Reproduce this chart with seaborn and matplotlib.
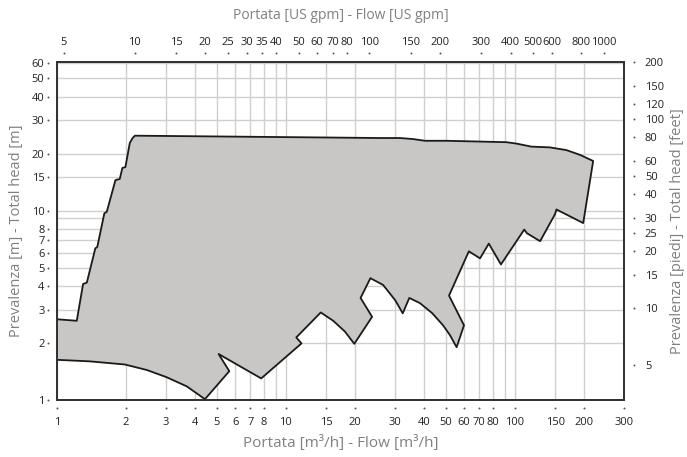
import numpy as np
import matplotlib
matplotlib.use("Agg")
import matplotlib.pyplot as plt
import matplotlib.transforms as mtransforms
from matplotlib.ticker import FixedLocator, FuncFormatter, NullFormatter
import seaborn as sns

# outline of the working range: flow [m3/h], head [m] (closed polygon)
flow = [1.00, 1.00, 1.22, 1.30, 1.35, 1.47, 1.50, 1.61, 1.65, 1.80, 1.88, 1.93, 1.99,
        2.08, 2.14, 2.19, 25.8, 31.5, 35.9, 40.5, 50.4, 92, 102, 118, 142, 168, 193, 220,
        199, 152, 150, 129, 113, 110, 87, 77, 70.5, 63, 51.6, 60, 55.7,
        52.1, 48.6, 43.5, 38.5, 34.6, 32.4, 30.0, 26.6, 23.4, 21.2, 23.8,
        19.9, 18.1, 16.1, 14.2, 11.1, 11.7, 7.8, 5.08, 5.66, 4.43,
        3.69, 3.01, 2.47, 1.98, 1.39, 1.00]
head = [1.63, 2.67, 2.62, 4.10, 4.17, 6.32, 6.44, 9.68, 9.87, 14.5, 14.7, 16.8, 17.0,
        22.8, 24.2, 24.9, 24.2, 24.2, 23.9, 23.4, 23.4, 23.0, 22.6, 21.8, 21.6, 20.9, 19.7, 18.3,
        8.6, 10.15, 9.6, 6.9, 7.6, 7.95, 5.2, 6.7, 5.6, 6.1, 3.56, 2.48, 1.90,
        2.20, 2.48, 2.88, 3.25, 3.46, 2.87, 3.37, 4.05, 4.40, 3.46, 2.75,
        1.98, 2.30, 2.62, 2.90, 2.14, 1.99, 1.30, 1.75, 1.42, 1.01,
        1.18, 1.32, 1.44, 1.54, 1.60, 1.63]

x_ticks = [1, 2, 3, 4, 5, 6, 7, 8, 10, 15, 20, 30, 40, 50, 60, 70, 80, 100, 150, 200, 300]
y_ticks = [1, 2, 3, 4, 5, 6, 7, 8, 10, 15, 20, 30, 40, 50, 60]
gpm_ticks = [5, 10, 15, 20, 25, 30, 35, 40, 50, 60, 70, 80, 100, 150, 200, 300, 400, 500, 600, 800, 1000]
feet_ticks = [5, 10, 15, 20, 25, 30, 40, 50, 60, 80, 100, 120, 150, 200]
gpm_grid = [40, 400]   # extra vertical grid lines (US gpm)
feet_grid = [30]       # extra horizontal grid line (feet)

M3H_TO_GPM = 4.403
M_TO_FT = 3.28084

sns.set_theme(style="white")
plt.rcParams["font.family"] = ["Open Sans", "DejaVu Sans"]

TICK_COL = "#222222"
LABEL_COL = "#808080"
GRID_COL = "#cfcfcf"
fmt = FuncFormatter(lambda v, _: f"{v:g}")

fig = plt.figure(figsize=(6.87, 4.57), dpi=100)
ax = fig.add_axes([57 / 687, 57 / 457, 567 / 687, 338 / 457])
ax.set_xscale("log")
ax.set_yscale("log")
ax.set_xlim(1, 300)
ax.set_ylim(1, 61)

ax.fill(flow, head, color="#c8c7c5", lw=0, zorder=2)
sns.lineplot(x=flow, y=head, sort=False, estimator=None, color="#1a1a1a",
             lw=1.3, ax=ax, zorder=3)

# grid
ax.xaxis.set_major_locator(FixedLocator(x_ticks))
ax.xaxis.set_minor_locator(FixedLocator([g / M3H_TO_GPM for g in gpm_grid]))
ax.yaxis.set_major_locator(FixedLocator(y_ticks))
ax.yaxis.set_minor_locator(FixedLocator([f / M_TO_FT for f in feet_grid]))
ax.xaxis.set_major_formatter(fmt)
ax.yaxis.set_major_formatter(fmt)
ax.xaxis.set_minor_formatter(NullFormatter())
ax.yaxis.set_minor_formatter(NullFormatter())
ax.set_axisbelow(True)
ax.grid(True, which="both", color=GRID_COL, lw=1)
ax.tick_params(which="both", length=0, labelsize=8, labelcolor=TICK_COL)
ax.tick_params(axis="x", pad=12)
ax.tick_params(axis="y", pad=9)

# top axis: US gpm
ax_top = ax.twiny()
ax_top.set_xscale("log")
ax_top.set_xlim(4.67, 1217)
ax_top.xaxis.set_major_locator(FixedLocator(gpm_ticks))
ax_top.xaxis.set_major_formatter(fmt)
ax_top.xaxis.set_minor_locator(FixedLocator([]))
ax_top.tick_params(which="both", length=0, labelsize=8, labelcolor=TICK_COL, pad=10)

# right axis: feet
ax_ft = ax.secondary_yaxis("right", functions=(lambda m: m * M_TO_FT, lambda f: f / M_TO_FT))
ax_ft.yaxis.set_major_locator(FixedLocator(feet_ticks))
ax_ft.yaxis.set_major_formatter(fmt)
ax_ft.yaxis.set_minor_locator(FixedLocator([]))
ax_ft.tick_params(which="both", length=0, labelsize=8, labelcolor=TICK_COL, pad=15)

for a in (ax, ax_top):
    for s in a.spines.values():
        s.set_color("#333333")
        s.set_linewidth(1.3)
ax_ft.spines["right"].set_visible(False)

# little tick dots set off from the frame
dot = dict(s=2, color="#555555", linewidths=0, clip_on=False, zorder=5)
bx = mtransforms.blended_transform_factory(ax.transData, ax.transAxes)
by = mtransforms.blended_transform_factory(ax.transAxes, ax.transData)
tx = mtransforms.blended_transform_factory(ax_top.transData, ax_top.transAxes)
ax.scatter(x_ticks, [0] * len(x_ticks), transform=mtransforms.offset_copy(bx, fig=fig, y=-8, units="dots"), **dot)
ax.scatter([0] * len(y_ticks), y_ticks, transform=mtransforms.offset_copy(by, fig=fig, x=-9, units="dots"), **dot)
ax.scatter([1] * len(feet_ticks), [f / M_TO_FT for f in feet_ticks],
           transform=mtransforms.offset_copy(by, fig=fig, x=10, units="dots"), **dot)
ax_top.scatter(gpm_ticks, [1] * len(gpm_ticks), transform=mtransforms.offset_copy(tx, fig=fig, y=9, units="dots"), **dot)

ax.set_xlabel("Portata [m³/h] - Flow [m³/h]", fontsize=11, color=LABEL_COL, labelpad=5)
ax_top.set_xlabel("Portata [US gpm] - Flow [US gpm]", fontsize=10, color=LABEL_COL, labelpad=13)
ax.set_ylabel("Prevalenza [m] - Total head [m]", fontsize=10.5, color=LABEL_COL, labelpad=5.5)
ax_ft.set_ylabel("Prevalenza [piedi] - Total head [feet]", fontsize=10.5, color=LABEL_COL, labelpad=4.5)

fig.savefig("out.png", dpi=100)
